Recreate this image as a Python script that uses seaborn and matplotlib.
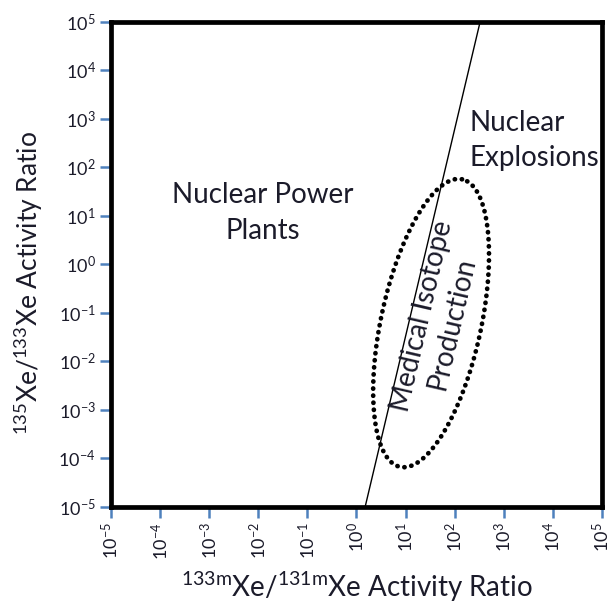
import numpy as np
import pandas as pd
import seaborn as sns
import matplotlib.pyplot as plt

# --- data ------------------------------------------------------------------
decades = list(range(-5, 6))                      # tick exponents on both axes
boundary_x = [1.5, 330.0]                         # 133mXe/131mXe ratio
boundary_y = [1e-5, 1e5]                          # 135Xe/133Xe ratio

# medical isotope region, given in decades (log10 units)
iso_center = (1.52, -1.21)
iso_semi_axes = (3.03, 1.02)
iso_angle_deg = 78.0

labels = {
    "npp": ("Nuclear Power\nPlants", 10**-1.9, 10**1.06),
    "nex": ("Nuclear\nExplosions", 10**2.31, 10**2.55),
    "mip": ("Medical Isotope\nProduction", 10**1.64, 10**-1.14),
}

TICK_BLUE = "#4f81bd"
TEXT = "#1b1b2a"

sns.set_theme(style="white")
plt.rcParams["font.family"] = ["Lato", "DejaVu Sans"]
plt.rcParams["mathtext.fontset"] = "custom"
plt.rcParams["mathtext.rm"] = "Lato"
plt.rcParams["mathtext.it"] = "Lato:italic"

fig = plt.figure(figsize=(6.13, 6.05), dpi=100)
ax = fig.add_axes([0.181, 0.162, 0.801, 0.802])

# boundary line between power plants and explosions
line_df = pd.DataFrame({"x": boundary_x, "y": boundary_y})
sns.lineplot(data=line_df, x="x", y="y", ax=ax, color="black", lw=1.0,
             sort=False, estimator=None)

# dotted ellipse, built in log space then sent through the log scales
t = np.linspace(0, 2 * np.pi, 400)
a, b = iso_semi_axes
th = np.deg2rad(iso_angle_deg)
ex = iso_center[0] + a * np.cos(t) * np.cos(th) - b * np.sin(t) * np.sin(th)
ey = iso_center[1] + a * np.cos(t) * np.sin(th) + b * np.sin(t) * np.cos(th)
ell_df = pd.DataFrame({"x": 10**ex, "y": 10**ey})
sns.lineplot(data=ell_df, x="x", y="y", ax=ax, color="black", lw=3.4,
             sort=False, estimator=None,
             linestyle=(0, (0.05, 1.45)), dash_capstyle="round")

ax.set_xscale("log")
ax.set_yscale("log")
ax.set_xlim(10.0**decades[0], 10.0**decades[-1])
ax.set_ylim(10.0**decades[0], 10.0**decades[-1])

ticks = [10.0**d for d in decades]
ax.set_xticks(ticks)
ax.set_yticks(ticks)
ax.set_xticklabels([f"$10^{{{d}}}$" for d in decades], rotation=90,
                   fontsize=13, color=TEXT)
ax.set_yticklabels([f"$10^{{{d}}}$" for d in decades], fontsize=13, color=TEXT)
ax.minorticks_off()
ax.tick_params(axis="both", which="major", direction="out", length=8,
               width=1.8, color=TICK_BLUE, bottom=True, left=True, pad=3)

for sp in ax.spines.values():
    sp.set_visible(True)
    sp.set_color("black")
    sp.set_linewidth(3.4)

ax.set_xlabel(r"$\mathregular{^{133m}}$Xe/$\mathregular{^{131m}}$Xe Activity Ratio",
              fontsize=20, color=TEXT, labelpad=7)
ax.set_ylabel(r"$\mathregular{^{135}}$Xe/$\mathregular{^{133}}$Xe Activity Ratio",
              fontsize=19, color=TEXT)
ax.yaxis.set_label_coords(-0.135, 0.462)

txt, x, y = labels["npp"]
ax.text(x, y, txt, ha="center", va="center", fontsize=20, color=TEXT,
        linespacing=1.45)
txt, x, y = labels["nex"]
ax.text(x, y, txt, ha="left", va="center", fontsize=20, color=TEXT,
        linespacing=1.45)
txt, x, y = labels["mip"]
ax.text(x, y, txt, ha="center", va="center", fontsize=20, color=TEXT,
        linespacing=1.2, rotation=77, rotation_mode="anchor")

fig.savefig("out.png", dpi=100)
